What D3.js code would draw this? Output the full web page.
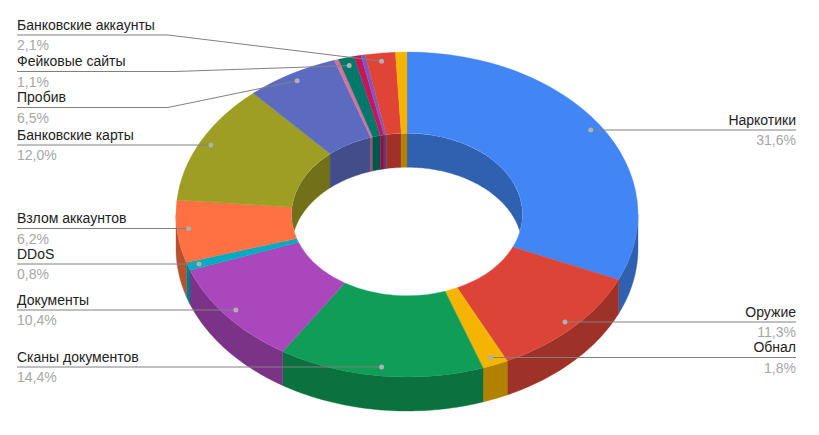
<!DOCTYPE html>
<html>
<head>
<meta charset="utf-8">
<script src="https://cdn.jsdelivr.net/npm/d3@7/dist/d3.min.js"></script>
<style>
html,body{margin:0;padding:0;background:#fff;}
svg{display:block;}
text{font-family:"Liberation Sans",Arial,sans-serif;font-size:14px;}
</style>
</head>
<body>
<svg id="chart" width="819" height="435"></svg>
<script>
// Data, clockwise from 12 o'clock
const categories = ["Наркотики","Оружие","Обнал","Сканы документов","Документы","DDoS","Взлом аккаунтов","Банковские карты","Пробив","","Фейковые сайты","","","Банковские аккаунты",""];
const values = [31.6,11.3,1.8,14.4,10.4,0.8,6.2,12.0,6.5,0.3,1.1,0.5,0.3,2.1,0.8];
const colors = ["#4285f4","#db4437","#f4b400","#0f9d58","#ab47bc","#00acc1","#ff7043","#9e9d24","#5c6bc0","#d9709c","#00796b","#c2185b","#7e57c2","#e04437","#f4b400"];

// Label layout, by category
const labelLineY = {"Наркотики":130,"Оружие":322,"Обнал":357.5,"Сканы документов":367,"Документы":310,"DDoS":264,"Взлом аккаунтов":228.5,"Банковские карты":145,"Пробив":107.5,"Фейковые сайты":71.5,"Банковские аккаунты":35};
const labelKinkX = {"Пробив":168,"Фейковые сайты":175,"Банковские аккаунты":168};
const rightSide = ["Наркотики","Оружие","Обнал"];

const W = 819, H = 435;
const cx = 407, cy = 214.5, rx = 231, ry = 162.5, holeRatio = 0.5, depth = 34;
const leftX = 17, rightX = 796;
const squash = ry / rx;
const wallShade = 0.72;

const svg = d3.select("#chart");
const pie = d3.pie().sort(null).value(d => d).startAngle(0).endAngle(2 * Math.PI);
const slices = pie(values);

const px = (r, a) => cx + r * rx * Math.sin(a);
const py = (r, a) => cy - r * ry * Math.cos(a);
const shade = c => { const k = d3.rgb(c); return d3.rgb(k.r * wallShade, k.g * wallShade, k.b * wallShade).formatHex(); };
const line = d3.line();

function wallPath(r, a0, a1) {
  const n = Math.max(2, Math.ceil((a1 - a0) / 0.02));
  const as = d3.range(n + 1).map(i => a0 + (a1 - a0) * i / n);
  const top = as.map(a => [px(r, a), py(r, a)]);
  const bot = as.slice().reverse().map(a => [px(r, a), py(r, a) + depth]);
  return line(top.concat(bot)) + "Z";
}

svg.append("defs").append("clipPath").attr("id", "hole")
  .append("ellipse").attr("cx", cx).attr("cy", cy)
  .attr("rx", rx * holeRatio).attr("ry", ry * holeRatio);

// Outer wall: front half
const outerG = svg.append("g");
slices.forEach((s, i) => {
  const a0 = Math.max(s.startAngle, Math.PI / 2), a1 = Math.min(s.endAngle, 3 * Math.PI / 2);
  if (a1 > a0) outerG.append("path").attr("d", wallPath(1, a0, a1))
    .attr("fill", shade(colors[i])).attr("stroke", shade(colors[i])).attr("stroke-width", 0.4);
});

// Inner wall: back half of the hole
const innerG = svg.append("g").attr("clip-path", "url(#hole)");
slices.forEach((s, i) => {
  [[s.startAngle, Math.min(s.endAngle, Math.PI / 2)],
   [Math.max(s.startAngle, 3 * Math.PI / 2), s.endAngle]].forEach(([a0, a1]) => {
    if (a1 > a0) innerG.append("path").attr("d", wallPath(holeRatio, a0, a1))
      .attr("fill", shade(colors[i])).attr("stroke", shade(colors[i])).attr("stroke-width", 0.4);
  });
});

// Top surface
const arc = d3.arc().innerRadius(rx * holeRatio).outerRadius(rx);
svg.append("g").attr("transform", `translate(${cx},${cy}) scale(1,${squash})`)
  .selectAll("path").data(slices).join("path")
  .attr("d", arc)
  .attr("fill", (d, i) => colors[i])
  .attr("stroke", (d, i) => colors[i]).attr("stroke-width", 0.4);

// Leaders and labels: the dot sits on the slice's mid-angle; unkinked leaders stay horizontal
const dotR = 0.95;
const fmt = v => v.toFixed(1).replace(".", ",") + "%";
const lab = svg.append("g");
slices.forEach((s, i) => {
  const name = categories[i];
  if (!name) return;
  const mid = (s.startAngle + s.endAngle) / 2;
  const right = rightSide.includes(name);
  const y = labelLineY[name];
  const dx = px(dotR, mid), dy = labelKinkX[name] ? py(dotR, mid) : y;
  const x0 = right ? rightX : leftX;
  const pts = [[x0, y]];
  if (labelKinkX[name]) pts.push([labelKinkX[name], y]);
  pts.push([dx, dy]);
  lab.append("path").attr("d", line(pts)).attr("fill", "none")
    .attr("stroke", "#808080").attr("stroke-width", 1);
  lab.append("circle").attr("cx", dx).attr("cy", dy).attr("r", 2.5).attr("fill", "#b0b0b0");
  const anchor = right ? "end" : "start";
  lab.append("text").attr("x", x0).attr("y", y - 5.5).attr("text-anchor", anchor).attr("fill", "#222").text(name);
  lab.append("text").attr("x", x0).attr("y", y + 15).attr("text-anchor", anchor).attr("fill", "#a6a6a6").text(fmt(values[i]));
});
</script>
</body>
</html>
